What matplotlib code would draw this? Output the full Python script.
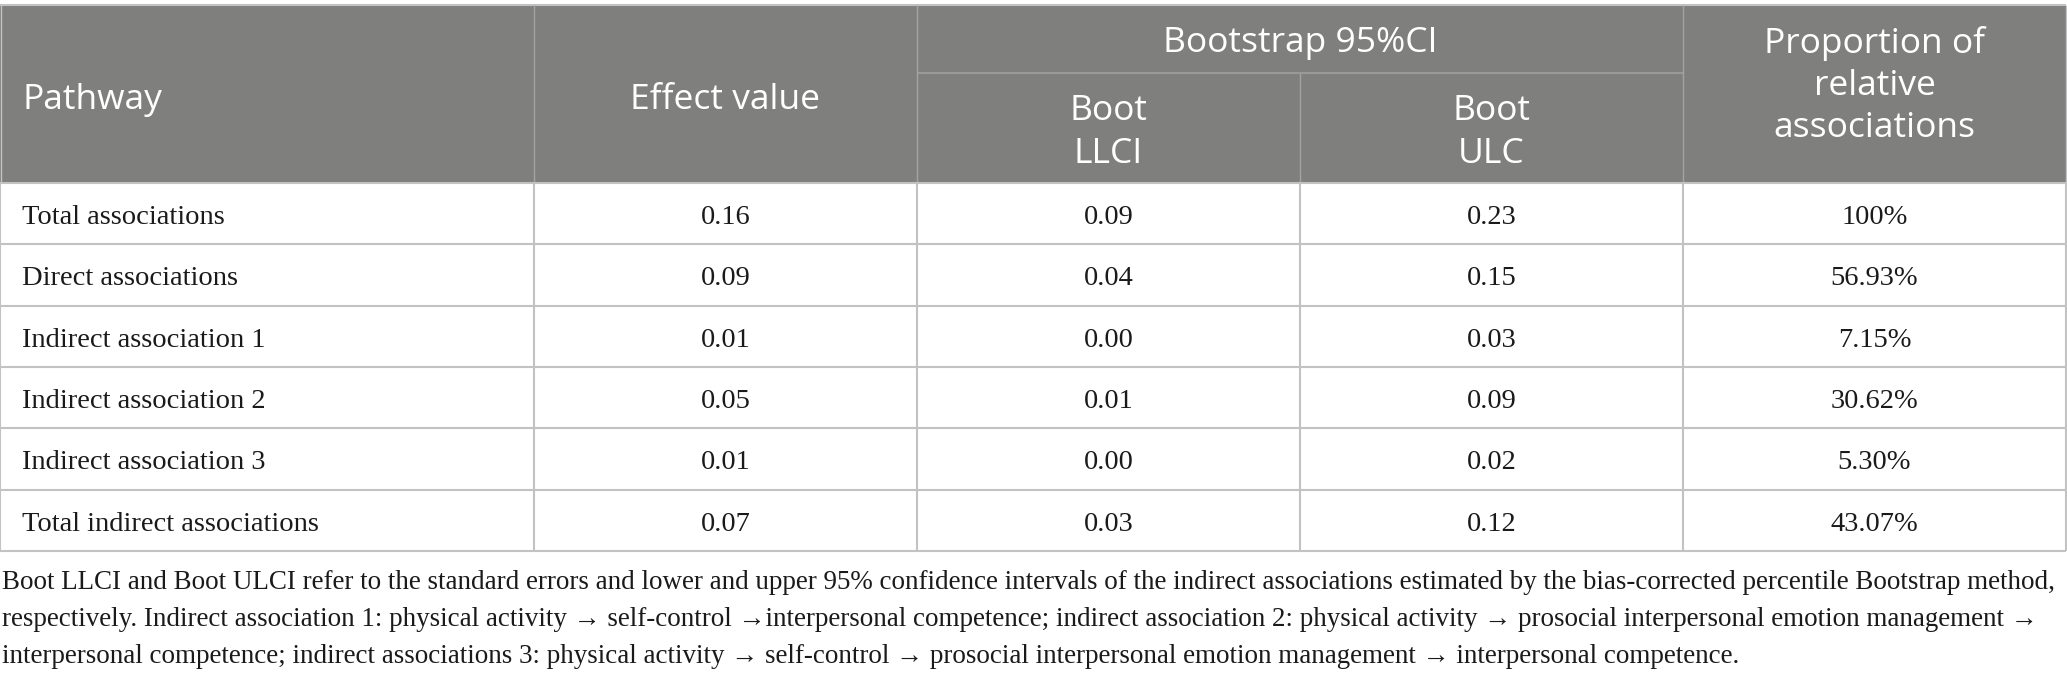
import matplotlib
matplotlib.use('Agg')
import matplotlib.pyplot as plt
from matplotlib.patches import Rectangle

# table content
pathways = ['Total associations', 'Direct associations', 'Indirect association 1',
            'Indirect association 2', 'Indirect association 3', 'Total indirect associations']
effect = [0.16, 0.09, 0.01, 0.05, 0.01, 0.07]
boot_llci = [0.09, 0.04, 0.00, 0.01, 0.00, 0.03]
boot_ulci = [0.23, 0.15, 0.03, 0.09, 0.02, 0.12]
proportion = [100, 56.93, 7.15, 30.62, 5.30, 43.07]

caption_lines = [
    'Boot LLCI and Boot ULCI refer to the standard errors and lower and upper 95% confidence intervals of the indirect associations estimated by the bias-corrected percentile Bootstrap method,',
    'respectively. Indirect association 1: physical activity \u2192 self-control \u2192interpersonal competence; indirect association 2: physical activity \u2192 prosocial interpersonal emotion management \u2192',
    'interpersonal competence; indirect associations 3: physical activity \u2192 self-control \u2192 prosocial interpersonal emotion management \u2192 interpersonal competence.',
]

W, H = 2067, 681
col_x = [0, 534, 917, 1300, 1683, 2066]
top, sub_y, head_bot = 5, 72.5, 183
row_h = (551 - head_bot) / 6

head_bg = '#7f807e'
grid = '#c2c2c2'
head_font = ['Open Sans', 'DejaVu Sans']
body_font = ['Liberation Serif', 'DejaVu Serif']
hs = 25.5   # header font size
bs = 20.5   # body font size

fig = plt.figure(figsize=(W / 100, H / 100), dpi=100)
ax = fig.add_axes([0, 0, 1, 1])
ax.set_xlim(0, W)
ax.set_ylim(H, 0)
ax.axis('off')

# header block
ax.add_patch(Rectangle((0, top), W - 1, head_bot - top, facecolor=head_bg, edgecolor='none'))
ax.hlines(top, 0, W - 1, color=grid, lw=1.5)
ax.hlines(sub_y, col_x[2], col_x[4], color='#999a98', lw=1.5)
for x in col_x[1:-1]:
    y0 = sub_y if x == col_x[3] else top
    ax.vlines(x, y0, head_bot, color='#a3a3a3', lw=1)

# body grid
body_bot = head_bot + 6 * row_h
for i in range(7):
    ax.hlines(head_bot + i * row_h, 0, W - 1, color=grid, lw=1.5)
for x in col_x:
    ax.vlines(x, head_bot, body_bot, color=grid, lw=1.5)
ax.vlines([0.7, W - 1.3], top, head_bot, color=grid, lw=1)

# header text
hkw = dict(color='white', fontsize=hs, family=head_font, va='baseline')
ax.text(22, 109, 'Pathway', ha='left', **hkw)
ax.text((col_x[1] + col_x[2]) / 2, 109, 'Effect value', ha='center', **hkw)
ax.text(col_x[3], 52, 'Bootstrap 95%CI', ha='center', **hkw)
for c, sub in [(2, 'LLCI'), (3, 'ULC')]:
    cx = (col_x[c] + col_x[c + 1]) / 2
    ax.text(cx, 120, 'Boot', ha='center', **hkw)
    ax.text(cx, 163, sub, ha='center', **hkw)
cx = (col_x[4] + col_x[5]) / 2
for yb, t in zip([53, 95, 137], ['Proportion of', 'relative', 'associations']):
    ax.text(cx, yb, t, ha='center', **hkw)

# body text
bkw = dict(color='#1a1a1a', fontsize=bs, family=body_font, va='baseline')
for i in range(len(pathways)):
    yb = head_bot + i * row_h + 41
    ax.text(22, yb, pathways[i], ha='left', **bkw)
    p = proportion[i]
    vals = [f'{effect[i]:.2f}', f'{boot_llci[i]:.2f}', f'{boot_ulci[i]:.2f}',
            '100%' if p == 100 else f'{p:.2f}%']
    for c, v in enumerate(vals, start=1):
        ax.text((col_x[c] + col_x[c + 1]) / 2, yb, v, ha='center', **bkw)

# footnote, sized so the first line spans the table width
notes = [ax.text(2, yb, line, ha='left', **bkw)
         for yb, line in zip([589, 626, 663], caption_lines)]
fig.canvas.draw()
w0 = notes[0].get_window_extent().width
fs = bs * 2055 / w0
for t in notes:
    t.set_fontsize(fs)

fig.savefig('out.png', dpi=100)
